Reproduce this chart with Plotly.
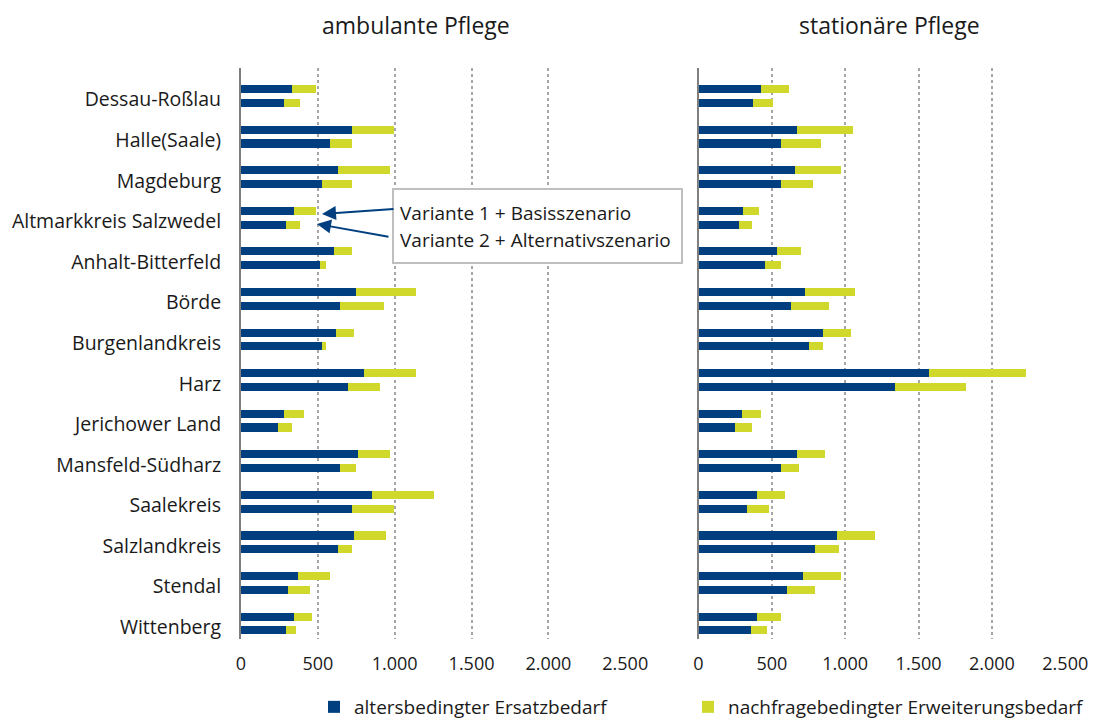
import plotly.graph_objects as go

W, H = 1095, 722

regions = ["Dessau-Roßlau", "Halle(Saale)", "Magdeburg", "Altmarkkreis Salzwedel",
           "Anhalt-Bitterfeld", "Börde", "Burgenlandkreis", "Harz", "Jerichower Land",
           "Mansfeld-Südharz", "Saalekreis", "Salzlandkreis", "Stendal", "Wittenberg"]

# ambulante Pflege: Variante 1 + Basisszenario (top bar), Variante 2 + Alternativszenario (lower bar)
amb_v1_ersatz = [329, 722, 632, 342, 606, 750, 617, 800, 277, 761, 852, 735, 368, 342]
amb_v1_erweit = [159, 274, 338, 146, 118, 390, 118, 340, 131, 209, 406, 209, 210, 118]
amb_v2_ersatz = [277, 578, 525, 290, 512, 643, 525, 698, 240, 643, 722, 630, 303, 290]
amb_v2_erweit = [107, 146, 199, 94, 42, 290, 29, 207, 89, 105, 274, 94, 144, 65]

# stationäre Pflege
sta_v1_ersatz = [424, 669, 655, 302, 533, 723, 846, 1565, 290, 669, 397, 941, 710, 397]
sta_v1_erweit = [191, 381, 313, 108, 163, 341, 190, 667, 134, 191, 190, 259, 258, 163]
sta_v2_ersatz = [370, 560, 560, 274, 451, 628, 751, 1334, 247, 560, 329, 792, 601, 356]
sta_v2_erweit = [136, 272, 218, 84, 109, 259, 95, 489, 111, 123, 150, 163, 191, 109]

series_names = ["altersbedingter Ersatzbedarf", "nachfragebedingter Erweiterungsbedarf"]
panel_titles = ["ambulante Pflege", "stationäre Pflege"]
annot_lines = ["Variante 1 + Basisszenario", "Variante 2 + Alternativszenario"]

BLUE = "#003F7F"
YELLOW = "#D0D82C"
FONT = "Open Sans, sans-serif"
TXT = "#1a1a1a"

idx = list(range(len(regions)))
off = 0.17
bw = 0.2
y_top = [i - off for i in idx]
y_bot = [i + off for i in idx]
label_pos = [i + 0.09 for i in idx]

fig = go.Figure()

def add_panel(xa, ya, v1e, v1w, v2e, v2w, show):
    common = dict(orientation="h", width=bw, xaxis=xa, yaxis=ya, marker_line_width=0,
                  hoverinfo="x+y")
    fig.add_trace(go.Bar(x=v1e, y=y_top, marker_color=BLUE, name=series_names[0],
                         showlegend=show, legend="legend", **common))
    fig.add_trace(go.Bar(x=v2e, y=y_bot, marker_color=BLUE, name=series_names[0],
                         showlegend=False, **common))
    fig.add_trace(go.Bar(x=v1w, y=y_top, marker_color=YELLOW, name=series_names[1],
                         showlegend=show, legend="legend2", **common))
    fig.add_trace(go.Bar(x=v2w, y=y_bot, marker_color=YELLOW, name=series_names[1],
                         showlegend=False, **common))

add_panel("x", "y", amb_v1_ersatz, amb_v1_erweit, amb_v2_ersatz, amb_v2_erweit, True)
add_panel("x2", "y2", sta_v1_ersatz, sta_v1_erweit, sta_v2_ersatz, sta_v2_erweit, False)

# pixel geometry
top_px, bot_px = 68, 639
c0, c13 = 96, 623.5
ppu = (c13 - c0) / 13
yr = [(bot_px - c0) / ppu, (top_px - c0) / ppu]
ydom = [1 - bot_px / H, 1 - top_px / H]

xcommon = dict(range=[0, 2505], tickvals=[0, 500, 1000, 1500, 2000, 2500], tickformat=",d",
               showgrid=True, gridcolor="#A6A6A6", griddash="dot", gridwidth=1.5,
               zeroline=False, showline=False, ticks="", automargin=False,
               tickfont=dict(family=FONT, size=18, color=TXT), ticklabelstandoff=12)
ycommon = dict(range=yr, showgrid=False, zeroline=False, showline=True, automargin=False,
               linecolor="#7F7F7F", linewidth=2, ticks="", domain=ydom)

fig.update_layout(
    width=W, height=H,
    margin=dict(l=0, r=0, t=0, b=0, autoexpand=False),
    paper_bgcolor="white", plot_bgcolor="white",
    barmode="stack", bargap=0,
    separators=",.",
    font=dict(family=FONT, color=TXT),
    xaxis=dict(domain=[241 / W, 626 / W], anchor="y", **xcommon),
    xaxis2=dict(domain=[698.5 / W, 1066 / W], anchor="y2", **xcommon),
    yaxis=dict(anchor="x", tickvals=label_pos, ticktext=regions,
               tickfont=dict(family=FONT, size=19.5, color=TXT), ticklabelstandoff=14,
               **ycommon),
    yaxis2=dict(anchor="x2", showticklabels=False, **ycommon),
    legend=dict(x=(334 - 20) / W, y=1 - 707 / H, xanchor="left", yanchor="middle",
                font=dict(family=FONT, size=19, color=TXT), bgcolor="rgba(0,0,0,0)",
                orientation="h"),
    legend2=dict(x=(708 - 20) / W, y=1 - 707 / H, xanchor="left", yanchor="middle",
                 font=dict(family=FONT, size=19, color=TXT), bgcolor="rgba(0,0,0,0)",
                 orientation="h"),
    showlegend=True,
)

# panel titles
for t, cx in zip(panel_titles, [416, 889]):
    fig.add_annotation(text=t, x=cx / W, y=1 - 25 / H, xref="paper", yref="paper",
                       showarrow=False, xanchor="center", yanchor="middle",
                       font=dict(family=FONT, size=23, color=TXT))

# annotation box
fig.add_shape(type="rect", xref="paper", yref="paper",
              x0=393 / W, x1=682 / W, y0=1 - 263 / H, y1=1 - 189 / H,
              line=dict(color="#BFBFBF", width=2), fillcolor="white", layer="above")
for t, cy in zip(annot_lines, [213, 240]):
    fig.add_annotation(text=t, x=398 / W, y=1 - cy / H, xref="paper", yref="paper",
                       showarrow=False, xanchor="left", yanchor="middle",
                       font=dict(family=FONT, size=19, color=TXT))

# arrows
for (hx, hy, tx, ty) in [(322, 214, 395, 209), (317, 224, 390, 237)]:
    fig.add_annotation(text="", x=hx / W, y=1 - hy / H, xref="paper", yref="paper",
                       ax=tx - hx, ay=ty - hy, axref="pixel", ayref="pixel",
                       showarrow=True, arrowhead=2, arrowsize=1.4, arrowwidth=2,
                       arrowcolor=BLUE, standoff=0)

fig.write_html("out.html", config={"displayModeBar": False},
               post_script="document.body.style.margin='0';document.body.style.overflow='hidden';")
